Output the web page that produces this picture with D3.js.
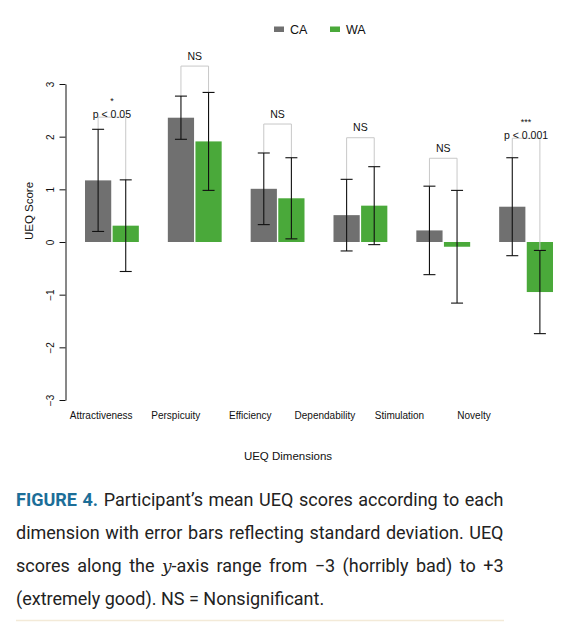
<!DOCTYPE html>
<html>
<head>
<meta charset="utf-8">
<script src="https://cdn.jsdelivr.net/npm/d3@7"></script>
<style>
  body { margin: 0; background: #fff; }
  svg { display: block; }
</style>
</head>
<body>
<div id="chart"></div>
<script>
// UEQ dimensions and the two groups
var dims = ["Attractiveness", "Perspicuity", "Efficiency", "Dependability", "Stimulation", "Novelty"];
var groups = ["CA", "WA"];

// means and standard deviations
var caMean = [1.17, 2.36, 1.01, 0.51, 0.22, 0.67];
var caSD   = [0.97, 0.41, 0.68, 0.68, 0.84, 0.93];
var waMean = [0.31, 1.91, 0.83, 0.69, -0.09, -0.95];
var waSD   = [0.87, 0.93, 0.77, 0.74, 1.07, 0.79];

// significance brackets
var bracketTop = [2.37, 3.34, 2.24, 1.98, 1.59, 1.97];
var sigText  = ["p < 0.05", "NS", "NS", "NS", "NS", "p < 0.001"];
var sigStars = ["*", "", "", "", "", "***"];

var yTicks = [-3, -2, -1, 0, 1, 2, 3];

var captionLines = [
    [{t: "FIGURE 4.", bold: true}, {t: " Participant\u2019s mean UEQ scores according to each"}],
    [{t: "dimension with error bars reflecting standard deviation. UEQ"}],
    [{t: "scores along the "}, {t: "y", math: true}, {t: "-axis range from "}, {t: "\u22123", minus: true}, {t: " (horribly bad) to +3"}],
    [{t: "(extremely good). NS = Nonsignificant."}]
];

var colors = {CA: "#707070", WA: "#4aa93a"};

var W = 580, H = 622;
var svg = d3.select("#chart").append("svg")
    .attr("width", W)
    .attr("height", H)
    .style("font-family", "'Liberation Sans', Arial, sans-serif");

// scales
var y = d3.scaleLinear().domain([-3, 3]).range([400, 84]);
var x0 = d3.scaleBand().domain(dims).range([85, 553]).paddingInner(0.35).paddingOuter(0);
var x1 = d3.scaleBand().domain(groups).range([0, x0.bandwidth()]).paddingInner(0.05);
// the category labels sit on their own spacing in the original
var xLab = d3.scalePoint().domain(dims).range([100.7, 473.5]);

var rows = [];
dims.forEach(function(d, i) {
    rows.push({dim: d, g: "CA", m: caMean[i], sd: caSD[i]});
    rows.push({dim: d, g: "WA", m: waMean[i], sd: waSD[i]});
});
function cx(r) { return x0(r.dim) + x1(r.g) + x1.bandwidth() / 2; }

// bars
svg.append("g").selectAll("rect")
    .data(rows)
    .enter().append("rect")
    .attr("x", function(d) { return x0(d.dim) + x1(d.g); })
    .attr("y", function(d) { return y(Math.max(0, d.m)); })
    .attr("width", x1.bandwidth())
    .attr("height", function(d) { return Math.abs(y(d.m) - y(0)); })
    .style("fill", function(d) { return colors[d.g]; });

// brackets
svg.append("g").selectAll("path")
    .data(dims)
    .enter().append("path")
    .attr("d", function(d, i) {
        var a = rows[i * 2], b = rows[i * 2 + 1];
        var top = y(bracketTop[i]);
        return "M" + cx(a) + "," + y(a.m + a.sd) + "V" + top + "H" + cx(b) + "V" + y(b.m + b.sd);
    })
    .attr("fill", "none")
    .attr("stroke", "#c8c8c8")
    .attr("stroke-width", 1);

// error bars
var eb = svg.append("g").selectAll("g")
    .data(rows)
    .enter().append("g")
    .attr("stroke", "#111")
    .attr("stroke-width", 1.1);
eb.append("line")
    .attr("x1", cx).attr("x2", cx)
    .attr("y1", function(d) { return y(d.m + d.sd); })
    .attr("y2", function(d) { return y(d.m - d.sd); });
eb.append("line")
    .attr("x1", function(d) { return cx(d) - 6; })
    .attr("x2", function(d) { return cx(d) + 6; })
    .attr("y1", function(d) { return y(d.m + d.sd); })
    .attr("y2", function(d) { return y(d.m + d.sd); });
eb.append("line")
    .attr("x1", function(d) { return cx(d) - 6; })
    .attr("x2", function(d) { return cx(d) + 6; })
    .attr("y1", function(d) { return y(d.m - d.sd); })
    .attr("y2", function(d) { return y(d.m - d.sd); });

// significance labels
var sig = svg.append("g").selectAll("g")
    .data(dims)
    .enter().append("g")
    .style("font-size", "10.5px")
    .attr("fill", "#111")
    .attr("text-anchor", "middle");
sig.append("text")
    .attr("x", function(d) { return x0(d) + x0.bandwidth() / 2; })
    .attr("y", function(d, i) { return sigStars[i] ? y(bracketTop[i]) + 1 : y(bracketTop[i]) - 6.5; })
    .text(function(d, i) { return sigText[i]; });
sig.append("text")
    .attr("x", function(d) { return x0(d) + x0.bandwidth() / 2; })
    .attr("y", function(d, i) { return y(bracketTop[i]) - 13; })
    .style("font-size", "9px")
    .text(function(d, i) { return sigStars[i]; });

// y axis
var yAxis = svg.append("g")
    .attr("transform", "translate(65.5,0)")
    .call(d3.axisLeft(y).tickValues(yTicks).tickSize(6).tickSizeOuter(0).tickFormat(d3.format("d")));
yAxis.selectAll("path, line").attr("stroke", "#111");
yAxis.selectAll("text")
    .attr("x", null).attr("dy", null)
    .attr("text-anchor", "middle")
    .attr("transform", "translate(-11.5,0) rotate(-90)")
    .style("font-size", "10px")
    .style("font-family", "'Liberation Sans', Arial, sans-serif")
    .attr("fill", "#111");

// x axis labels
var xAxis = svg.append("g")
    .attr("transform", "translate(0,406)")
    .call(d3.axisBottom(xLab).tickSize(0));
xAxis.select(".domain").remove();
xAxis.selectAll("text")
    .attr("dy", null).attr("y", 13)
    .style("font-size", "10px")
    .style("font-family", "'Liberation Sans', Arial, sans-serif")
    .attr("fill", "#111");

// axis titles
svg.append("text")
    .attr("transform", "translate(33,211) rotate(-90)")
    .attr("text-anchor", "middle")
    .style("font-size", "11.5px")
    .attr("fill", "#111")
    .text("UEQ Score");
svg.append("text")
    .attr("x", 288).attr("y", 460)
    .attr("text-anchor", "middle")
    .style("font-size", "11.5px")
    .attr("fill", "#111")
    .text("UEQ Dimensions");

// legend
var legX = d3.scaleOrdinal().domain(groups).range([274, 330]);
var leg = svg.append("g").selectAll("g")
    .data(groups)
    .enter().append("g")
    .attr("transform", function(d) { return "translate(" + legX(d) + ",0)"; });
leg.append("rect")
    .attr("y", 26.5).attr("width", 10).attr("height", 5.5)
    .style("fill", function(d) { return colors[d]; });
leg.append("text")
    .attr("x", 16).attr("y", 33.5)
    .style("font-size", "12.5px")
    .attr("fill", "#111")
    .text(function(d) { return d; });

// caption
var capBase = [506, 538.5, 571.5, 605];
var capRight = 503.5, capLeft = 16;
captionLines.forEach(function(parts, li) {
    var t = svg.append("text")
        .attr("x", capLeft).attr("y", capBase[li])
        .style("font-family", "Roboto, 'Noto Sans', sans-serif")
        .style("font-size", "18px")
        .attr("fill", "#222");
    parts.forEach(function(p) {
        var s = t.append("tspan").text(p.t);
        if (p.bold) s.style("font-weight", "bold").attr("fill", "#1c6e98");
        if (p.math) s.style("font-family", "'DejaVu Serif', serif").style("font-style", "italic").style("font-size", "17px");
    });
    // justify the full lines by widening the word gaps
    if (li < captionLines.length - 1) {
        var natural = t.node().getComputedTextLength();
        var full = parts.map(function(p) { return p.t; }).join("");
        var gaps = full.split(" ").length - 1;
        var extra = (capRight - capLeft - natural) / gaps;
        t.style("word-spacing", extra + "px");
    }
});

svg.append("line")
    .attr("x1", 16).attr("x2", 504)
    .attr("y1", 620.5).attr("y2", 620.5)
    .attr("stroke", "#f3ead8")
    .attr("stroke-width", 1.5);
</script>
</body>
</html>
